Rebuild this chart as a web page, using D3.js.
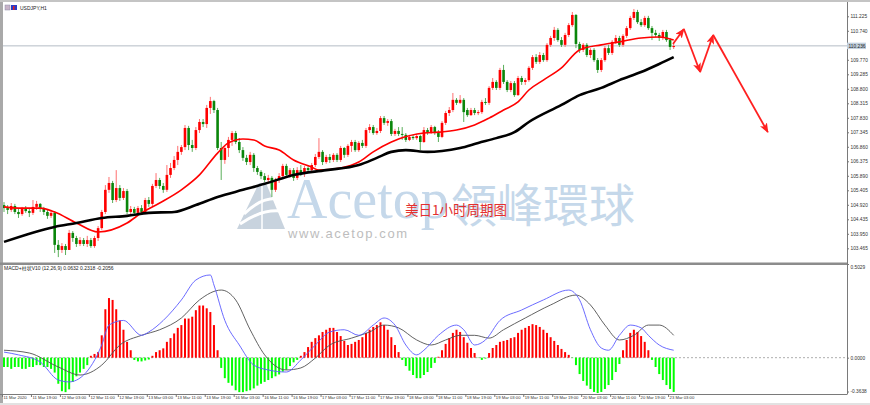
<!DOCTYPE html>
<html><head><meta charset="utf-8">
<script src="https://cdn.jsdelivr.net/npm/d3@7"></script>
<style>
html,body{margin:0;padding:0;background:#fff;}
svg{display:block;}
text{font-family:"Liberation Sans","Noto Sans CJK SC",Arial,sans-serif;}
</style></head><body>
<svg id="chart" width="870" height="405"></svg>
<script>
// ---------- DATA ----------
const symbolTitle = "USDJPY,H1";
const macdTitle = "MACD+柱状V10 (12,26,9) 0.0632 0.2318 -0.2056";
const currentPrice = 110.236;
// hourly candles [open, high, low, close], bar 0 = 11 Mar 2020 11:00
const candles = [
[104.91,105.01,104.68,104.81],[104.81,104.91,104.61,104.75],[104.75,104.98,104.68,104.88],[104.88,104.95,104.61,104.68],
[104.68,104.78,104.48,104.61],[104.61,104.85,104.55,104.78],[104.78,104.88,104.65,104.71],[104.71,104.81,104.51,104.65],
[104.65,105.08,104.58,104.85],[104.85,105.05,104.75,104.95],[104.95,104.98,104.68,104.78],[104.78,104.85,104.58,104.68],
[104.68,104.75,104.45,104.55],[104.55,104.75,104.48,104.65],[104.65,104.71,103.31,103.58],[103.58,103.74,103.17,103.41],
[103.41,103.64,103.31,103.54],[103.54,103.61,103.24,103.41],[103.41,104.08,103.41,103.98],[103.98,104.04,103.68,103.81],
[103.81,103.88,103.51,103.61],[103.61,103.84,103.54,103.74],[103.74,103.81,103.54,103.61],[103.61,103.88,103.51,103.74],
[103.74,103.81,103.48,103.54],[103.54,103.88,103.48,103.81],[103.81,104.21,103.71,104.14],[104.14,104.75,104.08,104.68],
[104.68,105.58,104.61,105.42],[105.42,105.85,105.32,105.65],[105.65,105.72,104.98,105.08],[105.08,106.08,105.01,105.48],
[105.48,105.58,105.05,105.15],[105.15,105.48,105.08,105.38],[105.38,105.45,104.61,104.68],[104.68,104.88,104.61,104.78],
[104.78,104.85,104.58,104.65],[104.65,104.88,104.61,104.81],[104.81,104.91,104.61,104.68],[104.68,105.15,104.61,105.08],
[105.08,105.18,104.85,104.95],[104.95,105.62,104.88,105.55],[105.55,105.98,105.48,105.75],[105.75,105.82,105.45,105.55],
[105.55,105.65,105.32,105.42],[105.42,106.25,105.35,105.92],[105.92,106.32,105.82,106.15],[106.15,106.55,106.08,106.42],
[106.42,106.89,106.25,106.69],[106.69,106.92,106.59,106.85],[106.85,107.59,106.75,107.49],[107.49,107.56,106.75,106.92],
[106.92,107.09,106.69,106.82],[106.82,107.52,106.75,107.42],[107.42,107.79,107.32,107.69],[107.69,107.79,107.52,107.62],
[107.62,108.26,107.49,108.16],[108.16,108.53,107.96,108.39],[108.39,108.43,107.99,108.09],[108.09,108.16,106.75,106.82],
[106.82,107.02,105.75,106.42],[106.42,106.89,106.29,106.82],[106.82,107.19,106.52,107.09],[107.09,107.39,106.89,107.32],
[107.32,107.39,106.95,107.02],[107.02,107.15,106.65,106.75],[106.75,106.85,106.39,106.49],[106.49,106.59,106.25,106.35],
[106.35,106.69,106.25,106.59],[106.59,106.65,106.02,106.15],[106.15,106.22,105.92,106.02],[106.02,106.08,105.78,105.88],
[105.88,105.98,105.68,105.75],[105.75,105.92,105.65,105.82],[105.82,105.88,105.18,105.42],[105.42,105.82,105.35,105.75],
[105.75,105.98,105.65,105.88],[105.88,106.29,105.78,106.22],[106.22,106.29,105.82,105.92],[105.92,106.15,105.82,106.08],
[106.08,106.15,105.72,105.82],[105.82,106.18,105.75,106.08],[106.08,106.25,105.88,105.98],[105.98,106.22,105.85,106.15],
[106.15,106.25,105.98,106.08],[106.08,106.32,106.02,106.25],[106.25,106.62,106.18,106.52],[106.52,107.15,106.45,106.69],
[106.69,106.75,106.25,106.35],[106.35,106.59,106.29,106.52],[106.52,106.62,106.32,106.42],[106.42,106.65,106.35,106.59],
[106.59,106.65,106.35,106.42],[106.42,106.89,106.35,106.82],[106.82,106.85,106.49,106.59],[106.59,106.95,106.52,106.89],
[106.89,107.09,106.69,107.02],[107.02,107.09,106.69,106.75],[106.75,107.05,106.69,106.99],[106.99,107.09,106.82,106.89],
[106.89,107.49,106.82,107.42],[107.42,107.62,107.32,107.52],[107.52,107.59,107.26,107.32],[107.32,107.49,107.26,107.39],
[107.39,107.89,107.32,107.82],[107.82,107.89,107.59,107.66],[107.66,107.79,107.56,107.72],[107.72,107.79,107.22,107.29],
[107.29,107.46,107.22,107.39],[107.39,107.52,107.22,107.29],[107.29,107.52,107.09,107.26],[107.26,107.32,107.02,107.09],
[107.09,107.26,107.05,107.19],[107.19,107.26,107.09,107.15],[107.15,107.29,107.09,107.22],[107.22,107.26,106.75,107.02],
[107.02,107.52,106.99,107.42],[107.42,107.49,107.26,107.32],[107.32,107.59,107.29,107.52],[107.52,107.56,107.26,107.32],
[107.32,107.42,107.02,107.19],[107.19,107.72,107.15,107.66],[107.66,108.06,107.59,107.99],[107.99,108.19,107.89,108.09],
[108.09,108.66,108.02,108.43],[108.43,108.49,108.26,108.33],[108.33,108.59,108.29,108.43],[108.43,108.49,107.69,108.02],
[108.09,108.16,107.86,107.92],[107.92,108.16,107.89,108.09],[108.09,108.16,107.92,107.99],[107.99,108.09,107.92,108.02],
[108.02,108.43,107.96,108.36],[108.36,108.49,108.26,108.33],[108.33,108.89,108.26,108.83],[108.83,109.16,108.76,109.03],
[109.03,109.09,108.76,108.83],[108.83,109.50,108.76,109.43],[109.43,109.60,108.96,109.03],[109.03,109.09,108.69,108.76],
[108.76,109.06,108.69,108.99],[108.99,109.06,108.53,108.59],[108.59,109.23,108.56,109.16],[109.16,109.23,108.93,109.03],
[109.03,109.16,108.93,109.09],[109.09,109.56,109.03,109.50],[109.50,109.93,109.43,109.86],[109.86,109.96,109.63,109.70],
[109.70,110.03,109.63,109.93],[109.93,110.00,109.70,109.76],[109.76,110.33,109.70,110.27],[110.27,110.57,110.20,110.50],
[110.50,110.87,110.40,110.77],[110.77,110.83,110.37,110.43],[110.43,110.53,110.20,110.27],[110.27,110.67,110.20,110.60],
[110.60,111.00,110.53,110.93],[110.93,111.37,110.87,111.27],[111.27,111.30,110.16,110.30],[110.30,110.37,110.00,110.10],
[110.10,110.33,110.03,110.27],[110.27,110.33,109.86,109.93],[109.93,110.16,109.83,110.10],[110.10,110.16,109.70,109.76],
[109.76,109.83,109.33,109.43],[109.43,109.83,109.36,109.76],[109.76,110.23,109.70,110.16],[110.16,110.27,109.93,110.00],
[110.00,110.43,109.93,110.37],[110.37,110.60,110.30,110.50],[110.50,110.57,110.20,110.27],[110.27,110.63,110.20,110.57],
[110.57,110.90,110.50,110.83],[110.83,111.24,110.77,111.17],[111.17,111.47,111.10,111.37],[111.37,111.44,110.97,111.03],
[111.03,111.13,110.87,110.93],[110.93,111.24,110.87,111.17],[111.17,111.24,110.77,110.83],[110.83,110.90,110.43,110.67],
[110.67,110.77,110.53,110.60],[110.60,110.67,110.40,110.50],[110.50,110.77,110.43,110.70],[110.70,110.77,110.37,110.43],
[110.43,110.50,110.10,110.20],[110.20,110.30,110.13,110.23]
];
// moving averages [bar, price]
const maRed = [[0,104.85],[4,104.81],[10,104.81],[14,104.68],[20,104.31],[26,104.01],[34,104.31],[38,104.65],[43,104.98],
[49,105.42],[54,105.92],[59,106.65],[62,106.99],[66,107.12],[69,107.09],[72,106.89],[76,106.75],[80,106.42],[85,106.18],
[87,106.08],[93,106.15],[98,106.35],[102,106.69],[107,107.02],[109,107.12],[116,107.32],[120,107.35],[125,107.42],
[130,107.59],[134,107.82],[138,108.09],[142,108.36],[145,108.76],[149,109.09],[154,109.50],[159,110.10],[165,110.27],
[170,110.37],[176,110.50],[181,110.53],[185,110.43]];
const maBlack = [[0,103.68],[14,104.18],[20,104.31],[27,104.48],[34,104.55],[40,104.65],[47,104.68],[53,104.91],[59,105.18],
[66,105.42],[72,105.62],[80,105.92],[89,106.08],[98,106.25],[103,106.49],[107,106.69],[111,106.75],[117,106.69],[121,106.72],
[126,106.82],[131,106.99],[136,107.15],[141,107.35],[145,107.69],[154,108.26],[159,108.59],[165,108.83],[170,109.09],
[176,109.36],[181,109.63],[185,109.86]];
// MACD histogram, one value per bar
const macdHist = [
-0.05,-0.05,-0.06,-0.05,-0.05,-0.06,-0.06,-0.05,-0.05,-0.04,-0.04,-0.05,-0.05,-0.06,
-0.08,-0.14,-0.18,-0.185,-0.17,-0.13,-0.10,-0.08,-0.06,-0.04,0.01,0.02,0.03,
0.12,0.26,0.32,0.31,0.26,0.20,0.15,0.085,0.04,-0.012,-0.02,-0.02,-0.015,-0.01,
0.01,0.03,0.04,0.05,0.085,0.105,0.13,0.16,0.175,0.21,0.21,0.22,0.255,0.28,0.28,0.265,0.245,0.175,0.04,
-0.055,-0.11,-0.135,-0.15,-0.175,-0.185,-0.185,-0.18,-0.175,-0.165,-0.15,-0.14,-0.13,-0.12,-0.11,-0.10,-0.09,-0.075,-0.065,-0.045,-0.025,-0.012,
0.01,0.03,0.057,0.085,0.105,0.12,0.138,0.15,0.16,0.16,0.138,0.116,0.09,0.068,0.074,0.085,0.095,0.11,0.133,0.15,0.165,0.175,0.19,0.175,0.15,0.11,0.068,0.03,
-0.012,-0.045,-0.07,-0.093,-0.11,-0.11,-0.093,-0.077,-0.055,-0.028,
0.005,0.04,0.074,0.105,0.133,0.15,0.138,0.11,0.08,0.052,0.025,
-0.002,-0.012,-0.005,
0.025,0.052,0.068,0.085,0.09,0.095,0.105,0.11,0.133,0.15,0.16,0.17,0.18,0.175,0.165,0.15,0.133,0.11,0.09,0.068,0.047,0.03,0.015,
-0.002,-0.04,-0.088,-0.125,-0.15,-0.168,-0.184,-0.19,-0.184,-0.168,-0.147,-0.12,-0.077,-0.034,
0.04,0.095,0.133,0.15,0.138,0.116,0.085,0.04,
-0.012,-0.05,-0.088,-0.12,-0.147,-0.168,-0.184
];
const macdLine = [[0,0.03],[4,0.015],[10,-0.023],[15,-0.12],[18,-0.13],[22,-0.093],[27,0.068],[29,0.175],[33,0.20],[38,0.12],
[40,0.138],[44,0.20],[49,0.31],[53,0.417],[57,0.444],[58,0.39],[61,0.20],[65,0.068],[69,-0.04],[73,-0.066],[78,-0.077],
[82,-0.012],[86,0.068],[90,0.138],[94,0.15],[98,0.12],[102,0.175],[105,0.213],[108,0.175],[111,0.068],[114,0.015],[116,0.04],
[120,0.12],[125,0.175],[127,0.15],[130,0.068],[133,0.095],[137,0.20],[143,0.256],[149,0.31],[156,0.363],[159,0.31],[162,0.15],
[165,0.052],[167,0.04],[170,0.12],[173,0.175],[176,0.16],[178,0.12],[181,0.068],[185,0.04]];
const signalLine = [[0,0.04],[7,0.025],[15,-0.05],[21,-0.093],[27,-0.04],[32,0.068],[38,0.12],[43,0.15],[49,0.213],[54,0.31],
[60,0.363],[64,0.31],[68,0.15],[72,0.015],[78,-0.066],[82,-0.055],[86,-0.002],[90,0.068],[96,0.105],[101,0.138],[105,0.175],
[109,0.16],[114,0.095],[118,0.068],[122,0.095],[126,0.12],[130,0.12],[134,0.105],[138,0.15],[144,0.213],[151,0.283],[158,0.336],
[162,0.283],[166,0.175],[170,0.095],[174,0.12],[178,0.175],[181,0.175],[185,0.12]];
// forecast arrows [bar, price]
const forecastPath = [[184.8,110.30],[187.8,110.80],[192.3,109.36],[195.9,110.60],[211,107.35]];
// axes
const priceTicks = [111.225,110.740,109.770,109.285,108.800,108.315,107.830,107.345,106.860,106.375,105.890,105.405,104.920,104.435,103.950,103.465];
const macdTicks = [0.5029, 0.0000];
const macdMinLabel = "-0.3638";
const timeTickBars = [0,8,16,24,32,40,48,56,64,72,80,88,96,104,112,120,128,136,144,152,160,168,176,184];
const timeLabels = ["11 Mar 2020","11 Mar 19:00","12 Mar 03:00","12 Mar 11:00","12 Mar 19:00","13 Mar 03:00","13 Mar 11:00",
"13 Mar 19:00","16 Mar 03:00","16 Mar 11:00","16 Mar 19:00","17 Mar 03:00","17 Mar 11:00","17 Mar 19:00","18 Mar 03:00",
"18 Mar 11:00","18 Mar 19:00","19 Mar 03:00","19 Mar 11:00","19 Mar 19:00","20 Mar 03:00","20 Mar 11:00","20 Mar 19:00","23 Mar 03:00"];

// ---------- LAYOUT ----------
const svg = d3.select('#chart');
const plotL = 3, plotR = 847, mainT = 2, mainB = 262, macdT = 265, macdB = 394;
const x = d3.scaleLinear().domain([0, 232]).range([4, 843.84]);
const y = d3.scaleLinear().domain([103, 111.77]).range([262.2, 0]);
const ym = d3.scaleLinear().domain([-0.195, 0.5029]).range([394, 264]);

svg.append('rect').attr('width', 870).attr('height', 405).attr('fill', '#fff');
const defs = svg.append('defs');
defs.append('clipPath').attr('id', 'clipMain').append('rect')
  .attr('x', plotL).attr('y', mainT).attr('width', plotR - plotL).attr('height', mainB - mainT);
defs.append('clipPath').attr('id', 'clipMacd').append('rect')
  .attr('x', plotL).attr('y', macdT).attr('width', plotR - plotL).attr('height', macdB - macdT);
defs.append('marker').attr('id', 'arrow').attr('markerUnits', 'userSpaceOnUse')
  .attr('markerWidth', 10).attr('markerHeight', 8).attr('refX', 9).attr('refY', 4).attr('orient', 'auto')
  .append('path').attr('d', 'M0,0 L10,4 L0,8 L2.5,4 Z').attr('fill', '#ff2020');

// ---------- WATERMARK ----------
const wm = svg.append('g');
wm.append('path').attr('d', 'M237,229 L259,183 L266,183 L285,229 Z').attr('fill', '#c8d3de');
wm.append('path').attr('d', 'M244,214 Q262,196 281,199').attr('stroke', '#fff').attr('stroke-width', 3).attr('fill', 'none');
wm.append('path').attr('d', 'M240,224 Q265,207 286,212').attr('stroke', '#fff').attr('stroke-width', 3).attr('fill', 'none');
wm.append('line').attr('x1', 262).attr('y1', 185).attr('x2', 262).attr('y2', 229).attr('stroke', '#fff').attr('stroke-width', 1.5);
wm.append('text').attr('x', 287).attr('y', 218).text('Acetop')
  .style('font-family', '"Liberation Serif",serif').style('font-size', '56px').attr('fill', '#c5d8ea');
wm.append('text').attr('x', 451).attr('y', 222).text('領峰環球')
  .style('font-family', '"Noto Sans CJK TC",sans-serif').style('font-size', '46px').attr('fill', '#c5d8ea');
wm.append('text').attr('x', 288).attr('y', 238).text('www.acetop.com')
  .style('font-size', '13px').style('letter-spacing', '1.6px').attr('fill', '#bdbdbd');

// ---------- MAIN PANEL ----------
const main = svg.append('g').attr('clip-path', 'url(#clipMain)');
main.append('line').attr('x1', plotL).attr('x2', plotR).attr('y1', y(currentPrice)).attr('y2', y(currentPrice))
  .attr('stroke', '#b4bcc6').attr('stroke-width', 1);

const cg = main.append('g');
candles.forEach((d, i) => {
  const [o, h, l, c] = d;
  const up = c >= o;
  cg.append('line').attr('x1', x(i)).attr('x2', x(i)).attr('y1', y(h)).attr('y2', y(l))
    .attr('stroke', up ? '#ff7070' : '#5aae5a').attr('stroke-width', 1);
  const top = y(Math.max(o, c)), bot = y(Math.min(o, c));
  cg.append('rect').attr('x', x(i) - 1.3).attr('width', 2.6).attr('y', top).attr('height', Math.max(1, bot - top))
    .attr('fill', up ? '#ff0000' : '#0a860a');
});

const lineGen = d3.line().x(d => x(d[0])).y(d => y(d[1])).curve(d3.curveMonotoneX);
main.append('path').datum(maRed).attr('d', lineGen).attr('fill', 'none').attr('stroke', '#ff0000').attr('stroke-width', 1.6);
main.append('path').datum(maBlack).attr('d', lineGen).attr('fill', 'none').attr('stroke', '#000').attr('stroke-width', 2.6);

// forecast arrows
for (let k = 0; k < forecastPath.length - 1; k++) {
  const a = forecastPath[k], b = forecastPath[k + 1];
  main.append('line').attr('x1', x(a[0])).attr('y1', y(a[1])).attr('x2', x(b[0])).attr('y2', y(b[1]))
    .attr('stroke', '#ff2020').attr('stroke-width', 1.8).attr('marker-end', 'url(#arrow)');
}

// red caption
svg.append('text').attr('x', 405).attr('y', 215).text('美日1小时周期图')
  .style('font-family', '"Noto Sans CJK SC",sans-serif').style('font-size', '13.5px').attr('fill', '#e3302f');

// ---------- MACD PANEL ----------
const mp = svg.append('g').attr('clip-path', 'url(#clipMacd)');
mp.append('line').attr('x1', plotL).attr('x2', plotR).attr('y1', ym(0)).attr('y2', ym(0))
  .attr('stroke', '#9a9a9a').attr('stroke-dasharray', '2,2').attr('stroke-width', 0.8);
mp.selectAll('rect.h').data(macdHist).join('rect').attr('class', 'h')
  .attr('x', (d, i) => x(i) - 1).attr('width', 2)
  .attr('y', d => Math.min(ym(0), ym(d))).attr('height', d => Math.abs(ym(d) - ym(0)))
  .attr('fill', d => d >= 0 ? '#ff0000' : '#00ff00');
const mLine = d3.line().x(d => x(d[0])).y(d => ym(d[1])).curve(d3.curveMonotoneX);
mp.append('path').datum(signalLine).attr('d', mLine).attr('fill', 'none').attr('stroke', '#505050').attr('stroke-width', 0.9);
mp.append('path').datum(macdLine).attr('d', mLine).attr('fill', 'none').attr('stroke', '#5a5aff').attr('stroke-width', 0.9);

// ---------- FRAME ----------
svg.append('rect').attr('x', 0).attr('y', 0).attr('width', 3).attr('height', 405).attr('fill', '#a9a9a9');
svg.append('rect').attr('x', 0).attr('y', 0).attr('width', 870).attr('height', 2).attr('fill', '#c4c4c4');
svg.append('rect').attr('x', 0).attr('y', 262.5).attr('width', plotR).attr('height', 2.5).attr('fill', '#8c8c8c');
svg.append('line').attr('x1', plotR + 0.5).attr('x2', plotR + 0.5).attr('y1', 2).attr('y2', macdB)
  .attr('stroke', '#7a7a7a');
svg.append('line').attr('x1', 0).attr('x2', plotR + 0.5).attr('y1', macdB + 0.5).attr('y2', macdB + 0.5)
  .attr('stroke', '#7a7a7a');
svg.append('rect').attr('x', 0).attr('y', 403).attr('width', 870).attr('height', 2).attr('fill', '#e2e2e2');

// titles
svg.append('rect').attr('x', 5).attr('y', 5).attr('width', 5).attr('height', 5).attr('fill', '#c8b4c8').attr('stroke', '#8a8aa8').attr('stroke-width', 0.5);
svg.append('rect').attr('x', 11).attr('y', 5).attr('width', 6).attr('height', 5).attr('fill', '#2a3cc8');
svg.append('rect').attr('x', 13).attr('y', 6).attr('width', 1.5).attr('height', 4).attr('fill', '#e02020');
svg.append('text').attr('x', 20).attr('y', 9.6).text(symbolTitle).style('font-size', '5px').attr('fill', '#222');
svg.append('text').attr('x', 4).attr('y', 270).text(macdTitle).style('font-size', '5px').attr('fill', '#222');

// price axis
const pa = svg.append('g').attr('transform', `translate(${plotR},0)`)
  .call(d3.axisRight(y).tickValues(priceTicks).tickSize(2).tickPadding(1.5).tickFormat(d => d.toFixed(3)));
pa.select('.domain').remove();
pa.selectAll('line').attr('stroke', '#777');
pa.selectAll('text').style('font-size', '4.8px').attr('fill', '#333');
// current price box
svg.append('rect').attr('x', plotR).attr('y', y(currentPrice) - 3.2).attr('width', 19).attr('height', 6.4).attr('fill', '#c2d0de');
svg.append('text').attr('x', plotR + 1.5).attr('y', y(currentPrice) + 1.7).text(currentPrice.toFixed(3))
  .style('font-size', '4.8px').attr('fill', '#222');

// macd axis
const ma = svg.append('g').attr('transform', `translate(${plotR},0)`)
  .call(d3.axisRight(ym).tickValues(macdTicks).tickSize(2).tickPadding(1.5).tickFormat(d => d.toFixed(4)));
ma.select('.domain').remove();
ma.selectAll('line').attr('stroke', '#777');
ma.selectAll('text').style('font-size', '4.8px').attr('fill', '#333');
ma.selectAll('.tick').filter(d => d === 0.5029).select('text').attr('dy', '0.9em');
svg.append('text').attr('x', plotR + 3.5).attr('y', macdB - 1).text(macdMinLabel).style('font-size', '4.8px').attr('fill', '#333');
svg.append('line').attr('x1', plotR).attr('x2', plotR + 2).attr('y1', macdB - 2).attr('y2', macdB - 2).attr('stroke', '#777');

// time axis
const ta = svg.append('g').attr('transform', `translate(0,${macdB})`)
  .call(d3.axisBottom(x).tickValues(timeTickBars).tickSize(3).tickPadding(1).tickFormat((d, k) => timeLabels[k]));
ta.select('.domain').remove();
ta.selectAll('line').attr('stroke', '#777').attr('x1', -2).attr('x2', -2);
ta.selectAll('text').style('font-size', '4.2px').attr('fill', '#333').attr('text-anchor', 'start').attr('x', -1).attr('y', 2.5);
</script>
</body></html>
